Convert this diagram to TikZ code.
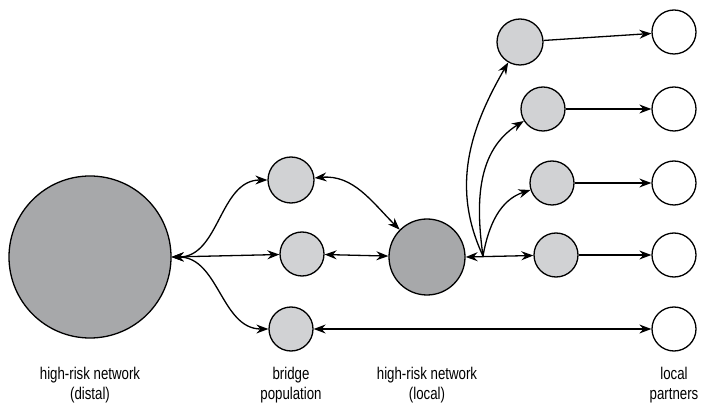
\documentclass[tikz,border=0pt]{standalone}
\usepackage{fontspec}
\setmainfont[FakeStretch=0.78]{Liberation Sans}
\usetikzlibrary{arrows.meta}
\definecolor{darkgr}{RGB}{167,168,170}
\definecolor{lightgr}{RGB}{209,210,212}
\begin{document}
\begin{tikzpicture}[x=1pt,y=1pt,line width=1.3pt]
\tikzstyle{big} = [circle, draw=black, fill=darkgr, inner sep=0pt]
\tikzstyle{v} = [circle, draw=black, fill=lightgr, inner sep=0pt, minimum size=44pt]
\tikzstyle{w} = [circle, draw=black, fill=white, inner sep=0pt, minimum size=44pt]
\tikzstyle{e} = [draw=black, {Stealth[length=12pt,width=9pt,inset=4pt]}-{Stealth[length=12pt,width=9pt,inset=4pt]}]
\tikzstyle{o} = [draw=black, -{Stealth[length=12pt,width=9pt,inset=4pt]}]
\tikzstyle{lab} = [align=center, font=\fontsize{17}{20}\selectfont]

\useasboundingbox (0,0) rectangle (714,407);

\node[big, minimum size=162pt] (dist) at (90,150) {};
\node[v, minimum size=46pt] (b1) at (291,227) {};
\node[v] (b2) at (302,153) {};
\node[v] (b3) at (291,78) {};
\node[big, minimum size=76pt] (loc) at (427,150) {};
\node[v, minimum size=46pt] (g1) at (520,365) {};
\node[v] (g2) at (543,298) {};
\node[v] (g3) at (552,224) {};
\node[v] (g4) at (556,152) {};
\node[w] (w1) at (674,375) {};
\node[w] (w2) at (674,298) {};
\node[w] (w3) at (674,224) {};
\node[w] (w4) at (674,152) {};
\node[w] (w5) at (674,78) {};
\coordinate (hub) at (483,151);

\node[lab] (t1) at (90,22) {high-risk network\\(distal)};
\node[lab] (t2) at (291,22) {bridge\\population};
\node[lab] (t3) at (427,22) {high-risk network\\(local)};
\node[lab] (t4) at (674,22) {local\\partners};

\draw[e] (dist.east) to[out=0, in=180] (b1);
\draw[e] (dist.east) to (b2);
\draw[e] (dist.east) to[out=0, in=180] (b3);
\draw[e] (b1) to[out=5, in=135] (loc);
\draw[e] (b2) to (loc);
\draw[e] (b3) to (w5);
\draw[e] (loc.east) to (g4);
\draw[o] (hub) to[out=115, in=240] (g1);
\draw[o] (hub) to[out=98, in=212] (g2);
\draw[o] (hub) to[out=80, in=198] (g3);
\draw[o] (g1) to (w1);
\draw[o] (g2) to (w2);
\draw[o] (g3) to (w3);
\draw[o] (g4) to (w4);
\end{tikzpicture}
\end{document}
